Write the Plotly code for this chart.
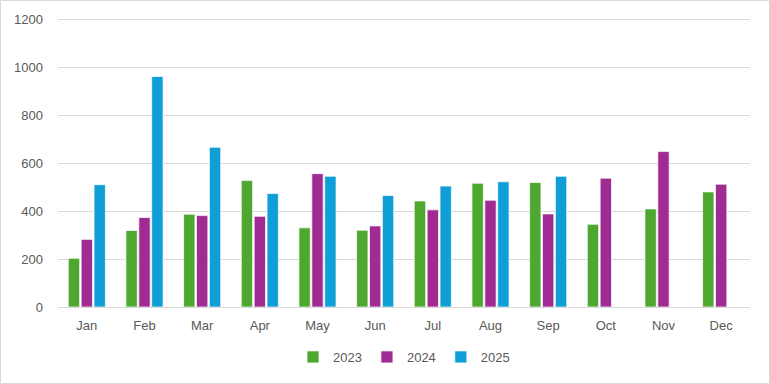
import plotly.graph_objects as go

months = ["Jan", "Feb", "Mar", "Apr", "May", "Jun", "Jul", "Aug", "Sep", "Oct", "Nov", "Dec"]
v2023 = [203, 319, 387, 527, 330, 320, 442, 516, 519, 345, 409, 480]
v2024 = [282, 373, 381, 378, 556, 338, 405, 445, 388, 537, 648, 512]
v2025 = [510, 961, 666, 473, 545, 465, 504, 522, 545, None, None, None]
y_ticks = [0, 200, 400, 600, 800, 1000, 1200]

W, H = 770, 384
L, R, T, B = 58, 20, 12, 77
pw, ph = W - L - R, H - T - B

fig = go.Figure()
for name, vals, col in [("2023", v2023, "#4EA72E"), ("2024", v2024, "#A02B93"), ("2025", v2025, "#0F9ED5")]:
    fig.add_trace(go.Bar(x=months, y=vals, name=name, marker=dict(color=col, line=dict(color="white", width=0.7))))

fig.update_layout(
    width=W, height=H,
    margin=dict(l=L, r=R, t=T, b=B),
    paper_bgcolor="white", plot_bgcolor="white",
    barmode="group", bargap=0.33, bargroupgap=0.12,
    font=dict(family="Liberation Sans, Arial, sans-serif", size=13, color="#595959"),
    xaxis=dict(showgrid=False, showline=False, ticks="", ticklabelstandoff=9,
               tickfont=dict(size=13, color="#595959")),
    yaxis=dict(range=[0, 1230], tickvals=y_ticks, showgrid=True, gridcolor="#D9D9D9", gridwidth=1,
               zeroline=True, zerolinecolor="#D9D9D9", zerolinewidth=1, ticks="", ticklabelstandoff=14,
               tickfont=dict(size=13, color="#595959")),
    legend=dict(orientation="h", x=0.5, xanchor="center", y=(T + ph - 357) / ph, yanchor="middle",
                font=dict(size=13, color="#595959"), itemwidth=30, traceorder="normal"),
    showlegend=True,
)
fig.add_shape(type="rect", xref="paper", yref="paper",
              x0=(0.5 - L) / pw, x1=(W - 0.5 - L) / pw,
              y0=(T + ph - (H - 0.5)) / ph, y1=(T + ph - 0.5) / ph,
              line=dict(color="#D9D9D9", width=1), fillcolor="rgba(0,0,0,0)")
fig.write_html("out.html", config={"displayModeBar": False},
               post_script="document.body.style.margin='0';")
